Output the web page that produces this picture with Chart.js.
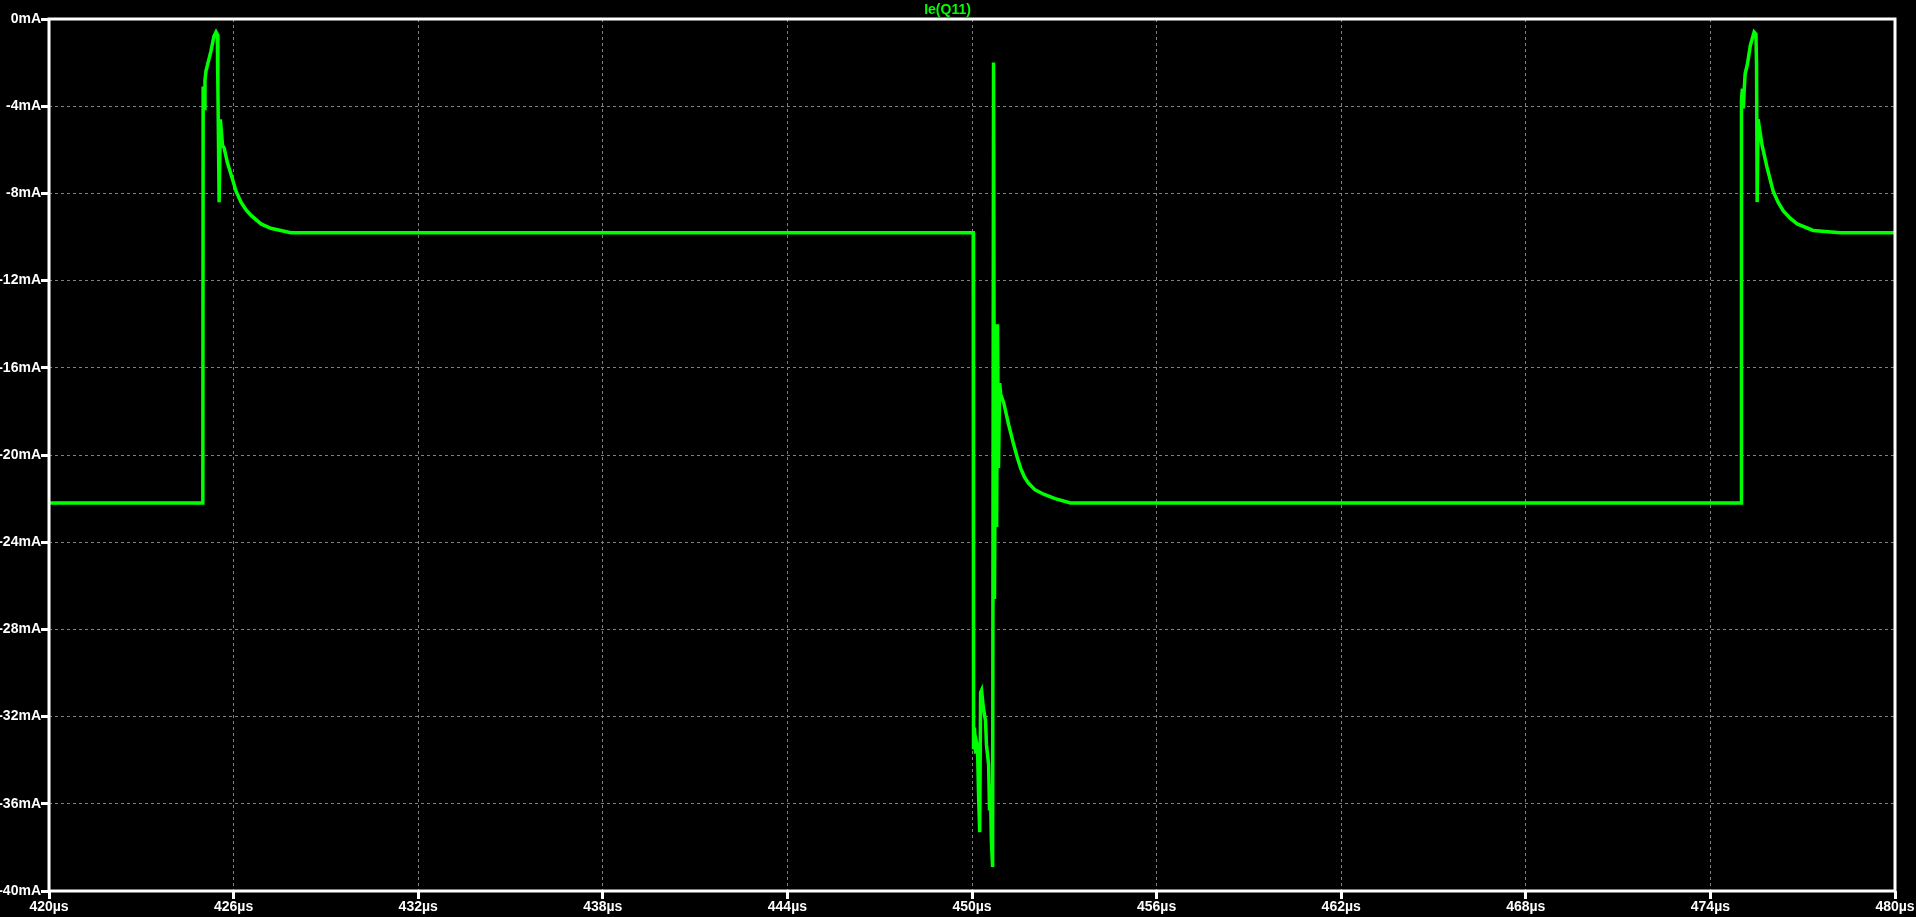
<!DOCTYPE html>
<html>
<head>
<meta charset="utf-8">
<title>Ie(Q11)</title>
<script src="https://cdn.jsdelivr.net/npm/chart.js@4.4.1/dist/chart.umd.min.js"></script>
<style>
  html, body { margin: 0; padding: 0; background: #000; }
  canvas { display: block; }
</style>
</head>
<body>
<canvas id="plot" width="1916" height="917"></canvas>
<script>
// time in µs
const timeUs = [
  420, 425.00, 425.01, 425.04, 425.07, 425.10, 425.17, 425.26, 425.36, 425.43,
  425.47, 425.49, 425.53, 425.57, 425.64, 425.69, 425.80, 425.91, 426.08, 426.24,
  426.40, 426.56, 426.89, 427.21, 427.86, 428.51, 450.04,
  450.05, 450.08, 450.12, 450.15, 450.18, 450.21, 450.25, 450.28, 450.31, 450.37,
  450.44, 450.47, 450.54, 450.57, 450.60, 450.63, 450.67, 450.70, 450.73, 450.78,
  450.80, 450.83, 450.86, 450.90, 450.93, 451.03, 451.19, 451.35, 451.47, 451.58,
  451.70, 451.84, 452.05, 452.33, 452.70, 453.20, 454.50, 475.00,
  475.01, 475.04, 475.07, 475.10, 475.13, 475.20, 475.30, 475.42, 475.48, 475.50,
  475.52, 475.55, 475.68, 475.84, 476.04, 476.20, 476.37, 476.60, 476.82, 477.34,
  478.22, 480
];
// Ie(Q11) in mA
const ieQ11 = [
  -22.2, -22.2, -3.1, -4.1, -2.8, -2.4, -2.0, -1.5, -0.8, -0.6,
  -0.7, -3.2, -8.4, -4.6, -5.8, -5.9, -6.6, -7.1, -7.9, -8.4,
  -8.75, -9.0, -9.4, -9.6, -9.8, -9.8, -9.8,
  -33.5, -32.5, -33.7, -33.2, -33.4, -35.4, -37.3, -30.9, -30.8, -31.6,
  -32.2, -33.3, -34.2, -36.3, -35.1, -37.7, -38.9, -2.0, -26.6, -14.0,
  -23.3, -14.0, -20.6, -16.7, -17.2, -17.6, -18.6, -19.5, -20.1, -20.6,
  -21.0, -21.3, -21.6, -21.8, -22.0, -22.2, -22.2, -22.2,
  -3.7, -3.2, -4.1, -3.2, -2.5, -2.1, -1.2, -0.6, -0.7, -2.1,
  -8.4, -4.6, -5.8, -6.8, -7.9, -8.4, -8.8, -9.15, -9.4, -9.7,
  -9.8, -9.8
];
const xTicks = [420, 426, 432, 438, 444, 450, 456, 462, 468, 474, 480];
const yTicks = [0, -4, -8, -12, -16, -20, -24, -28, -32, -36, -40];

const points = timeUs.map((t, i) => ({ x: t, y: ieQ11[i] }));
const tickFont = { family: 'Liberation Sans, Arial, sans-serif', size: 14, weight: 'bold' };

// white frame round the plot area
const frame = {
  id: 'frame',
  afterDraw(chart) {
    const a = chart.chartArea, ctx = chart.ctx;
    ctx.save();
    ctx.strokeStyle = '#fff';
    ctx.lineWidth = 3;
    ctx.strokeRect(a.left, a.top, a.right - a.left, a.bottom - a.top);
    ctx.restore();
  }
};

new Chart(document.getElementById('plot').getContext('2d'), {
  type: 'line',
  data: {
    datasets: [{
      label: 'Ie(Q11)',
      data: points,
      borderColor: '#00ff00',
      borderWidth: 3.5,
      pointRadius: 0,
      tension: 0,
      fill: false
    }]
  },
  options: {
    responsive: false,
    animation: false,
    devicePixelRatio: 1,
    layout: { padding: { top: 0, right: 21, bottom: 0, left: 0 } },
    plugins: {
      legend: { display: false },
      tooltip: { enabled: false },
      title: {
        display: true,
        text: 'Ie(Q11)',
        color: '#00ff00',
        font: { family: 'Liberation Sans, Arial, sans-serif', size: 14, weight: 'bold', lineHeight: 1 },
        padding: { top: 3, bottom: 2 }
      }
    },
    scales: {
      x: {
        type: 'linear',
        min: 420,
        max: 480,
        afterBuildTicks: s => { s.ticks = xTicks.map(v => ({ value: v })); },
        afterFit: s => { s.height = 26; },
        ticks: {
          color: '#fff',
          font: tickFont,
          padding: 0,
          maxRotation: 0,
          autoSkip: false,
          callback: v => v + 'µs'
        },
        grid: {
          color: '#808080',
          lineWidth: 1,
          tickColor: '#fff',
          tickWidth: 3,
          tickLength: 8,
          tickBorderDash: []
        },
        border: { display: false, dash: [3, 3] }
      },
      y: {
        min: -40,
        max: 0,
        afterBuildTicks: s => { s.ticks = yTicks.map(v => ({ value: v })); },
        afterFit: s => { s.width = 49; },
        ticks: {
          color: '#fff',
          font: tickFont,
          padding: 0,
          autoSkip: false,
          callback: v => v + 'mA'
        },
        grid: {
          color: '#808080',
          lineWidth: 1,
          tickColor: '#fff',
          tickWidth: 3,
          tickLength: 8,
          tickBorderDash: []
        },
        border: { display: false, dash: [3, 3] }
      }
    }
  },
  plugins: [frame]
});
</script>
</body>
</html>
